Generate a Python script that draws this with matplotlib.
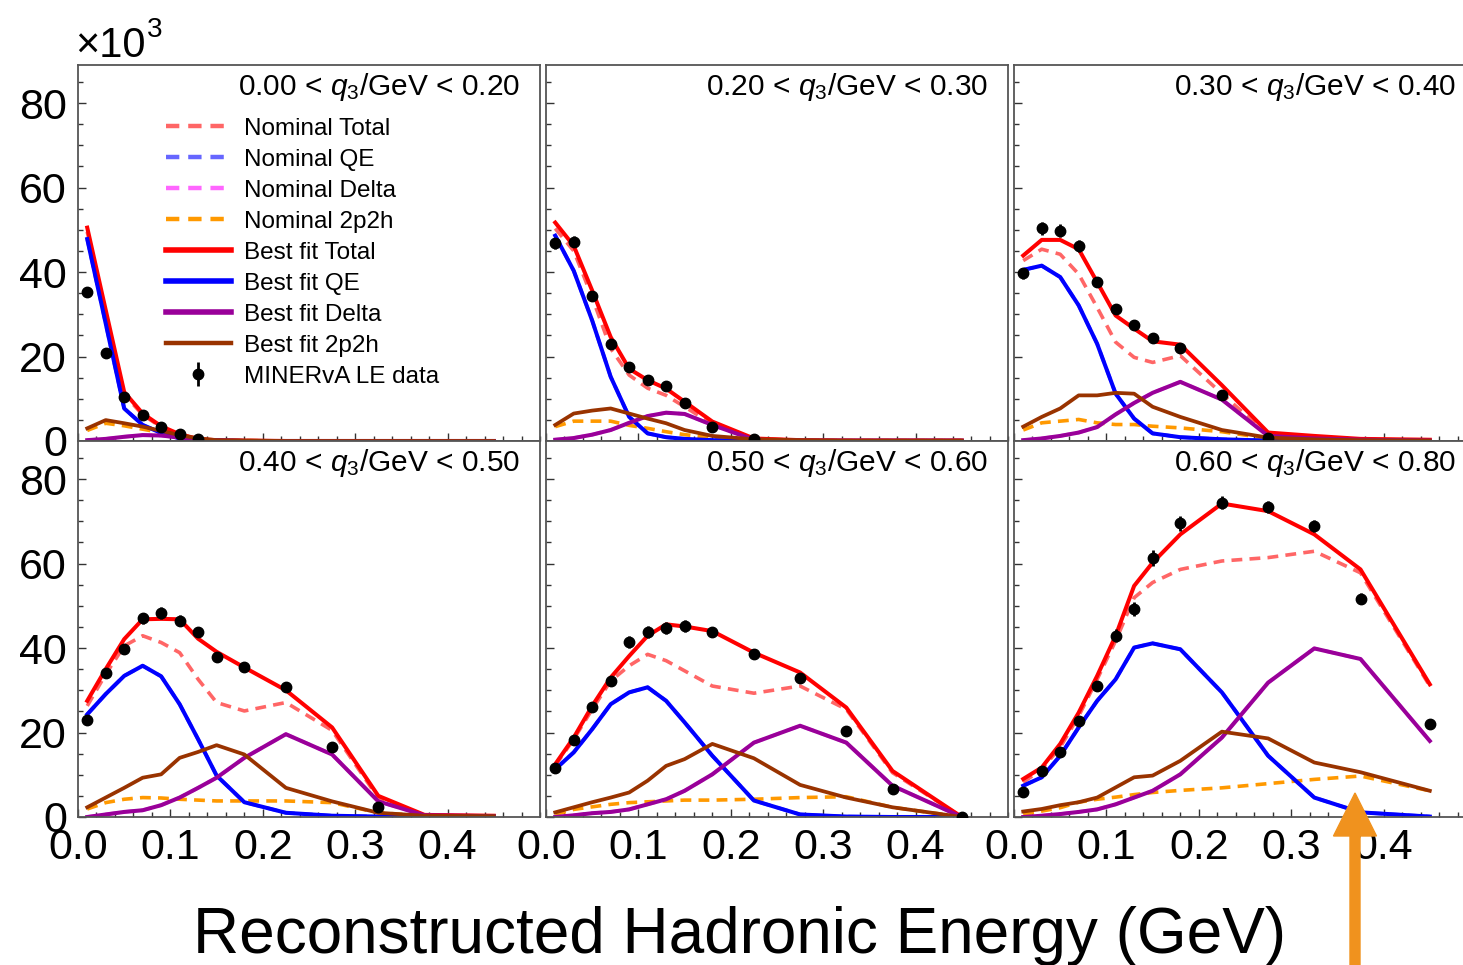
import matplotlib
matplotlib.use("Agg")
import matplotlib.pyplot as plt
from matplotlib.patches import FancyArrow
from matplotlib.transforms import IdentityTransform
from matplotlib.ticker import MultipleLocator, FixedLocator, NullFormatter

plt.rcParams['font.family'] = ['Liberation Sans', 'DejaVu Sans']
plt.rcParams['mathtext.fontset'] = 'custom'
plt.rcParams['mathtext.rm'] = 'Liberation Sans'
plt.rcParams['mathtext.it'] = 'Liberation Sans:italic'

# bin centres of reconstructed hadronic energy (GeV)
xc = [0.01, 0.03, 0.05, 0.07, 0.09, 0.11, 0.13, 0.15, 0.18, 0.225, 0.275, 0.325, 0.375, 0.45]
xticks = [0.0, 0.1, 0.2, 0.3, 0.4]

q3_bins = [(0.00, 0.20), (0.20, 0.30), (0.30, 0.40), (0.40, 0.50), (0.50, 0.60), (0.60, 0.80)]

# events (x10^3), one list per q3 bin
data = [
    [35.2, 20.9, 10.5, 6.1, 3.4, 1.65, 0.4],
    [46.8, 47.2, 34.3, 22.9, 17.5, 14.5, 13.0, 9.0, 3.4, 0.4],
    [39.7, 50.3, 49.8, 46.2, 37.6, 31.3, 27.4, 24.4, 22.1, 11.0, 0.8],
    [22.9, 34.0, 39.7, 47.0, 48.2, 46.4, 43.7, 37.8, 35.4, 30.8, 16.5, 2.3],
    [11.6, 18.3, 26.1, 32.2, 41.4, 43.8, 44.8, 45.2, 43.8, 38.5, 33.0, 20.4, 6.6, 0.1],
    [6.0, 10.9, 15.4, 22.8, 31.0, 42.9, 49.2, 61.4, 69.5, 74.4, 73.4, 68.9, 51.7, 22.0],
]
data_err = [
    [1.0, 0.7, 0.5, 0.4, 0.3, 0.2, 0.1],
    [1.3, 1.3, 1.0, 0.8, 0.7, 0.6, 0.6, 0.5, 0.3, 0.1],
    [1.3, 1.6, 1.6, 1.4, 1.2, 1.0, 0.9, 0.8, 0.7, 0.6, 0.2],
    [0.9, 1.1, 1.2, 1.4, 1.4, 1.3, 1.2, 1.0, 0.9, 0.8, 0.6, 0.2],
    [0.6, 0.8, 1.0, 1.1, 1.4, 1.4, 1.4, 1.4, 1.2, 1.0, 0.9, 0.7, 0.4, 0.1],
    [0.5, 0.7, 0.8, 1.0, 1.2, 1.5, 1.6, 1.9, 1.7, 1.6, 1.5, 1.5, 1.3, 0.9],
]

total_fit = [
    [50.5, 31.0, 11.6, 6.5, 3.5, 1.6, 0.5, 0.2, 0.1, 0, 0, 0, 0, 0],
    [51.7, 46.2, 35.6, 24.6, 17.1, 14.4, 12.4, 9.3, 4.6, 0.6, 0.2, 0.1, 0.1, 0.1],
    [43.9, 47.6, 47.6, 45.4, 37.6, 29.7, 26.6, 23.6, 22.8, 13.2, 2.0, 1.2, 0.5, 0.3],
    [27.5, 35.0, 42.1, 46.8, 46.9, 46.8, 42.2, 39.1, 35.4, 30.0, 21.2, 5.0, 0.5, 0.3],
    [12.5, 18.8, 26.3, 33.0, 38.1, 42.9, 45.6, 45.1, 44.0, 38.9, 34.2, 25.9, 10.9, 0.0],
    [9.0, 11.7, 17.3, 24.7, 33.4, 42.9, 54.7, 60.2, 66.9, 74.2, 72.4, 66.9, 58.6, 31.4],
]
total_nom = [
    [49.5, 30.0, 11.0, 6.2, 3.3, 1.5, 0.5, 0.2, 0.1, 0, 0, 0, 0, 0],
    [50.3, 45.0, 34.0, 21.9, 15.6, 12.5, 10.8, 8.1, 4.0, 0.5, 0.2, 0.1, 0.1, 0.1],
    [42.7, 45.4, 44.2, 39.5, 31.6, 23.4, 19.8, 18.6, 20.2, 11.2, 1.4, 0.9, 0.4, 0.2],
    [26.3, 33.8, 40.5, 42.9, 41.3, 38.9, 32.6, 27.1, 25.1, 27.1, 20.5, 4.5, 0.4, 0.2],
    [12.2, 18.4, 25.5, 32.2, 35.8, 38.5, 37.0, 34.6, 31.0, 29.3, 31.0, 25.5, 10.5, 0.0],
    [8.2, 11.3, 16.5, 23.9, 32.6, 41.7, 51.9, 55.5, 58.6, 60.6, 61.4, 62.9, 57.8, 31.0],
]
qe_fit = [
    [47.8, 27.8, 7.7, 3.8, 1.9, 0.6, 0.2, 0.1, 0, 0, 0, 0, 0, 0],
    [48.6, 40.3, 28.5, 15.2, 5.7, 1.8, 0.9, 0.5, 0.2, 0, 0, 0, 0, 0],
    [40.5, 41.5, 38.8, 32.1, 23.0, 11.2, 5.3, 1.8, 0.9, 0.4, 0.1, 0, 0, 0],
    [24.3, 29.1, 33.4, 35.8, 33.3, 26.7, 18.4, 9.8, 3.5, 1.0, 0.3, 0.1, 0, 0],
    [11.3, 15.3, 20.8, 26.7, 29.5, 30.7, 27.5, 22.4, 14.5, 3.9, 0.6, 0.1, 0.0, 0.0],
    [7.4, 9.4, 14.5, 21.2, 27.5, 32.6, 40.1, 41.1, 39.7, 29.5, 14.5, 4.6, 1.1, 0.1],
]
delta_fit = [
    [0.2, 0.5, 1.0, 1.4, 1.3, 0.8, 0.3, 0.1, 0, 0, 0, 0, 0, 0],
    [0.3, 0.7, 1.5, 2.6, 4.3, 5.9, 6.7, 6.4, 3.8, 0.3, 0.1, 0.1, 0.1, 0.1],
    [0.2, 0.6, 1.2, 2.0, 3.3, 6.3, 9.0, 11.4, 14.0, 9.8, 1.2, 0.6, 0.3, 0.1],
    [0.0, 0.6, 1.2, 1.6, 2.8, 4.6, 6.9, 9.3, 14.0, 19.6, 14.8, 3.7, 0.4, 0.2],
    [0.0, 0.4, 0.9, 1.2, 1.8, 3.0, 4.2, 6.2, 10.1, 17.6, 21.6, 17.6, 7.4, 0.0],
    [0.0, 0.3, 0.7, 1.2, 1.8, 3.0, 4.6, 6.2, 10.1, 18.8, 31.8, 39.9, 37.4, 18.0],
]
mec_fit = [
    [3.0, 4.95, 4.2, 3.4, 2.4, 1.4, 0.6, 0.2, 0.1, 0, 0, 0, 0, 0],
    [3.8, 6.5, 7.2, 7.7, 6.5, 5.3, 4.2, 2.6, 1.2, 0.4, 0.2, 0.1, 0.1, 0.1],
    [3.4, 5.7, 7.7, 10.8, 10.8, 11.4, 11.2, 8.1, 5.7, 2.6, 0.8, 0.4, 0.2, 0.1],
    [2.3, 4.6, 6.9, 9.3, 10.1, 14.0, 15.4, 17.0, 14.8, 6.9, 3.7, 1.0, 0.3, 0.2],
    [1.1, 2.3, 3.5, 4.6, 5.8, 8.6, 12.1, 13.7, 17.3, 13.9, 7.6, 4.6, 2.3, 0.0],
    [1.3, 1.9, 2.8, 3.5, 4.6, 7.0, 9.4, 9.8, 13.3, 20.2, 18.6, 12.9, 10.6, 6.2],
]
mec_nom = [
    [2.5, 4.2, 3.6, 2.8, 2.0, 1.2, 0.5, 0.2, 0.1, 0, 0, 0, 0, 0],
    [3.4, 4.7, 4.7, 4.7, 3.7, 3.0, 2.2, 1.5, 0.8, 0.3, 0.1, 0.1, 0.1, 0.1],
    [2.6, 4.3, 4.7, 5.1, 4.3, 3.9, 3.9, 3.5, 3.1, 2.2, 0.6, 0.3, 0.2, 0.1],
    [1.9, 3.4, 4.2, 4.6, 4.5, 4.2, 4.0, 3.8, 3.8, 3.8, 3.4, 1.0, 0.3, 0.2],
    [0.6, 1.8, 2.4, 3.0, 3.4, 3.6, 3.8, 4.0, 4.0, 4.2, 4.6, 4.8, 2.3, 0.0],
    [0.6, 1.4, 2.2, 3.5, 4.2, 4.7, 5.3, 5.8, 6.3, 6.9, 7.9, 8.9, 9.7, 6.2],
]
# nominal QE and Delta lie under the best-fit curves in the picture
qe_nom = qe_fit
delta_nom = delta_fit

W, H = 1463, 965
fig = plt.figure(figsize=(W / 100, H / 100), dpi=100)

# panel frames in pixels: (left, top, width, height)
lefts = [78, 546, 1014]
tops = [65, 441]
pw, ph = 462, 376

dash = (3, 2)
axes = []
for k in range(6):
    r, c = divmod(k, 3)
    x0, y0 = lefts[c], tops[r]
    ax = fig.add_axes([x0 / W, 1 - (y0 + ph) / H, pw / W, ph / H])
    axes.append(ax)
    n = len(data[k])

    h1, = ax.plot(xc, total_nom[k], color='#ff6666', lw=2.6, dashes=dash, label='Nominal Total')
    h2, = ax.plot(xc, qe_nom[k], color='#6666ff', lw=2.6, dashes=dash, label='Nominal QE')
    h3, = ax.plot(xc, delta_nom[k], color='#ff66ff', lw=2.6, dashes=dash, label='Nominal Delta')
    h4, = ax.plot(xc, mec_nom[k], color='#ff9900', lw=2.6, dashes=dash, label='Nominal 2p2h')
    h5, = ax.plot(xc, total_fit[k], color='#ff0000', lw=2.9, label='Best fit Total')
    h6, = ax.plot(xc, qe_fit[k], color='#0000ff', lw=2.9, label='Best fit QE')
    h7, = ax.plot(xc, delta_fit[k], color='#990099', lw=2.9, label='Best fit Delta')
    h8, = ax.plot(xc, mec_fit[k], color='#993300', lw=2.7, label='Best fit 2p2h')
    h9 = ax.errorbar(xc[:n], data[k], yerr=data_err[k], fmt='o', color='black',
                     ms=7.5, elinewidth=2, capsize=0, label='MINERvA LE data', zorder=5)

    ax.set_xlim(0, 0.5)
    ax.set_ylim(0, 89)
    ax.xaxis.set_major_locator(FixedLocator(xticks))
    ax.xaxis.set_minor_locator(MultipleLocator(0.02))
    ax.yaxis.set_major_locator(MultipleLocator(20))
    ax.yaxis.set_minor_locator(MultipleLocator(5))
    ax.tick_params(which='both', direction='in', colors='#333333', labelcolor='black',
                   labelsize=31, pad=8)
    ax.tick_params(which='major', length=6, width=1)
    ax.tick_params(which='minor', length=3.5, width=1)
    ax.xaxis.set_major_formatter(plt.FuncFormatter(lambda v, p: f"{v:.1f}"))
    for s in ax.spines.values():
        s.set_color('#555555')
        s.set_linewidth(1.3)
    if r == 0:
        ax.xaxis.set_major_formatter(NullFormatter())
    if c > 0:
        ax.yaxis.set_major_formatter(NullFormatter())

    lo, hi = q3_bins[k]
    ax.text(0.957, 0.92, f"{lo:.2f} < $q_3$/GeV < {hi:.2f}", transform=ax.transAxes,
            ha='right', va='baseline', fontsize=21.5)

    if k == 0:
        handles = [h1, h2, h3, h4, h5, h6, h7, h8, h9]

leg = axes[0].legend(handles=handles, loc='upper left', bbox_to_anchor=(0.19, 0.86),
                     frameon=False, fontsize=17.5, handlelength=2.67, handletextpad=0.55,
                     labelspacing=0.37, borderpad=0, borderaxespad=0)
for ln, w in zip(leg.get_lines()[:8], [3.2, 3.2, 3.2, 3.2, 4, 4, 4, 3.2]):
    ln.set_linewidth(w)

fig.text(75 / W, 1 - 57 / H, "×10", fontsize=30, va='baseline')
fig.text(147 / W, 1 - 37 / H, "3", fontsize=20, va='baseline')

fig.text(740 / W, 1 - 953 / H, "Reconstructed Hadronic Energy (GeV)",
         ha='center', va='baseline', fontsize=46)

arrow = FancyArrow(1355, 0, 0, H - 793, width=10, head_width=43, head_length=43,
                   length_includes_head=True, color='#f0921e', transform=IdentityTransform())
fig.add_artist(arrow)

fig.savefig("out.png", dpi=100)
